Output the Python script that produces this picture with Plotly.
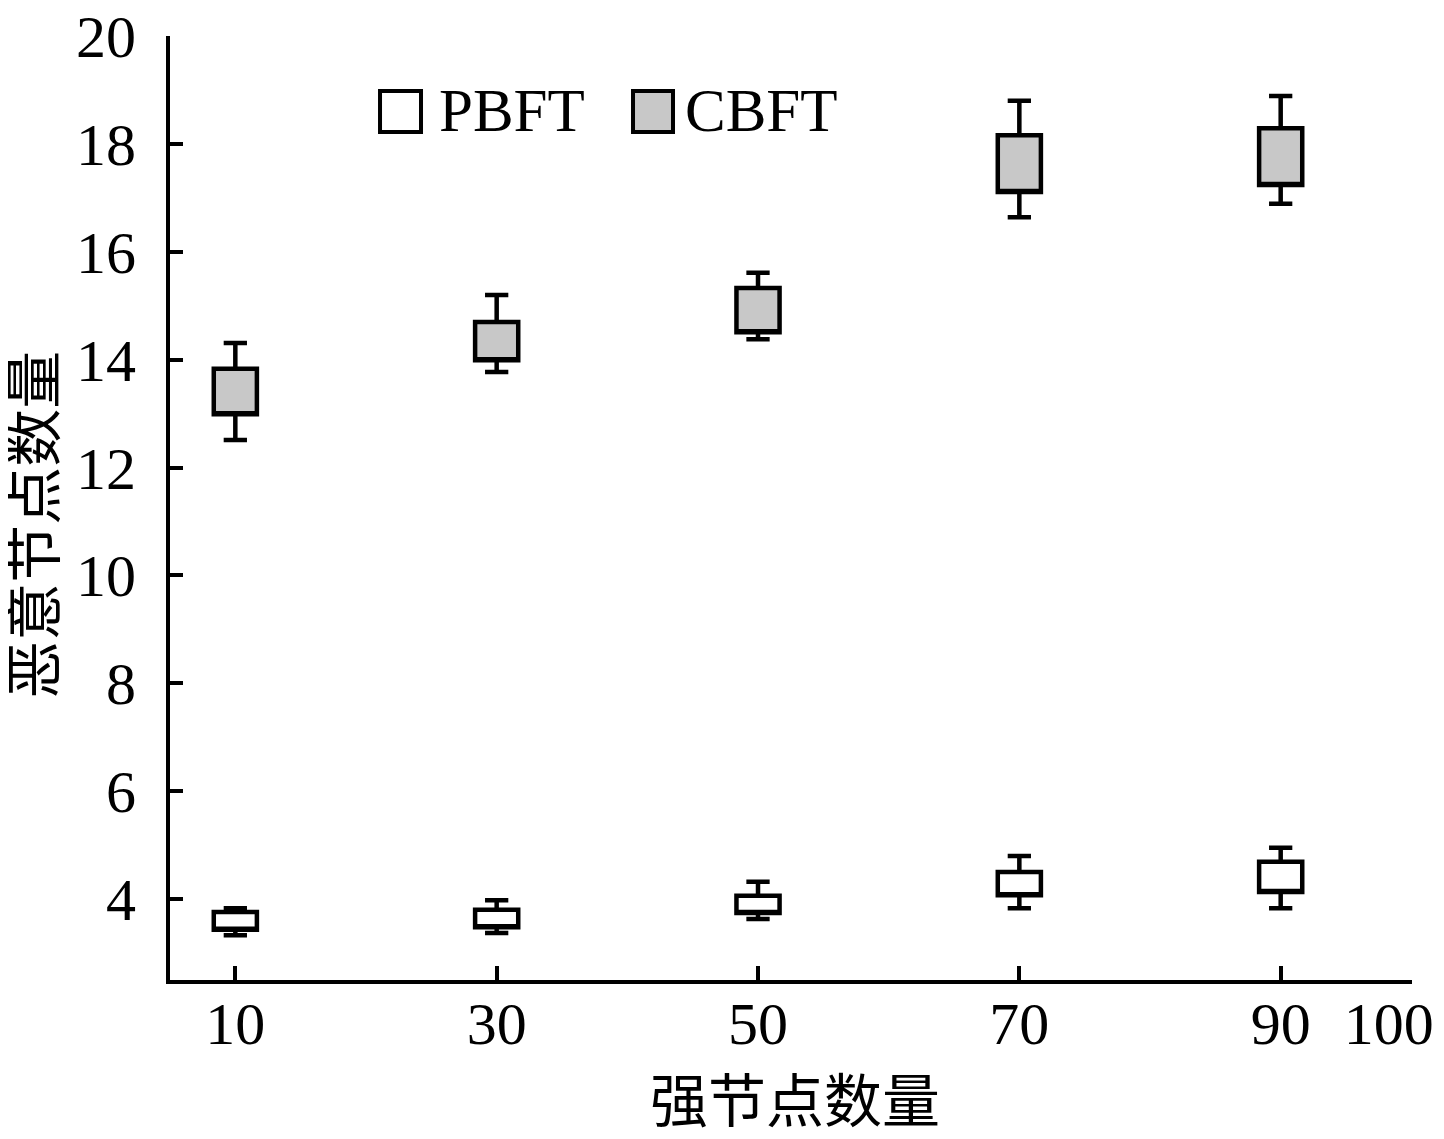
import plotly.graph_objects as go

# Data
x_cats = [10, 30, 50, 70, 90]
x_ticks = [10, 30, 50, 70, 90, 100]
x_ticktext = ["10", "30", "50", "70", "90", "100\u00a0\u00a0\u00a0"]

pbft_low = [3.33, 3.37, 3.63, 3.83, 3.83]
pbft_q1 = [3.43, 3.48, 3.74, 4.07, 4.13]
pbft_q3 = [3.76, 3.80, 4.06, 4.50, 4.69]
pbft_high = [3.83, 3.98, 4.32, 4.80, 4.95]

cbft_low = [12.51, 13.77, 14.38, 16.64, 16.89]
cbft_q1 = [12.99, 13.99, 14.51, 17.11, 17.24]
cbft_q3 = [13.83, 14.70, 15.33, 18.16, 18.29]
cbft_high = [14.31, 15.20, 15.61, 18.80, 18.89]

series_names = ["PBFT", "CBFT"]
fill_colors = ["#ffffff", "#c8c8c8"]
x_title = "强节点数量"
y_title = "恶意节点数量"

FONT = "Liberation Serif, 'Times New Roman', 'Noto Sans CJK SC', serif"
CJK = "'Noto Sans CJK SC', 'Liberation Serif', serif"

fig = go.Figure()
for name, low, q1, q3, high, col in [
    ("PBFT", pbft_low, pbft_q1, pbft_q3, pbft_high, fill_colors[0]),
    ("CBFT", cbft_low, cbft_q1, cbft_q3, cbft_high, fill_colors[1]),
]:
    fig.add_trace(go.Box(
        name=name, x=x_cats, q1=q1, median=q1, q3=q3,
        lowerfence=low, upperfence=high,
        fillcolor=col, line=dict(color="black", width=4.5),
        width=3.3, whiskerwidth=0.54, showlegend=False,
        boxpoints=False,
    ))

# Legend drawn as shapes + annotations in paper coordinates
legend_items = [
    dict(x0=0.1691, x1=0.2021, tx=0.2150, fill=fill_colors[0], text=series_names[0]),
    dict(x0=0.3728, x1=0.4050, tx=0.4130, fill=fill_colors[1], text=series_names[1]),
]
for it in legend_items:
    fig.add_shape(type="rect", xref="paper", yref="paper",
                  x0=it["x0"], x1=it["x1"], y0=0.8983, y1=0.9417,
                  fillcolor=it["fill"], line=dict(color="black", width=4))
    fig.add_annotation(xref="paper", yref="paper", x=it["tx"], y=0.9206,
                       xanchor="left", yanchor="middle", showarrow=False,
                       text=it["text"], font=dict(family=FONT, size=61, color="black"))

# Axis titles as annotations
fig.add_annotation(xref="paper", yref="paper", x=0.503, y=-0.124,
                   xanchor="center", yanchor="middle", showarrow=False,
                   text=x_title, font=dict(family=CJK, size=58, color="black"))
fig.add_annotation(xref="paper", yref="paper", x=-0.113, y=0.482,
                   xanchor="center", yanchor="middle", showarrow=False, textangle=-90,
                   text=y_title, font=dict(family=CJK, size=58, color="black"))

fig.update_layout(
    width=1428, height=1123,
    margin=dict(l=162, r=24, t=28, b=151, autoexpand=False),
    paper_bgcolor="white", plot_bgcolor="white",
    boxmode="overlay",
    font=dict(family=FONT, size=60, color="black"),
)
fig.update_xaxes(
    range=[5, 100.05], tickvals=x_ticks, ticktext=x_ticktext,
    showline=True, linecolor="black", linewidth=4,
    ticks="inside", ticklen=14, tickwidth=3.5, tickcolor="black",
    showgrid=False, zeroline=False, automargin=False,
    tickfont=dict(family=FONT, size=60), ticklabelstandoff=-12,
    ticklabeloverflow="allow",
)
fig.update_yaxes(
    range=[2.5, 20], tick0=0, dtick=2,
    showline=True, linecolor="black", linewidth=4,
    ticks="inside", ticklen=13, tickwidth=3.5, tickcolor="black",
    showgrid=False, zeroline=False, automargin=False,
    tickfont=dict(family=FONT, size=60), ticklabelstandoff=18,
    ticklabeloverflow="allow",
)

fig.write_html("out.html")
